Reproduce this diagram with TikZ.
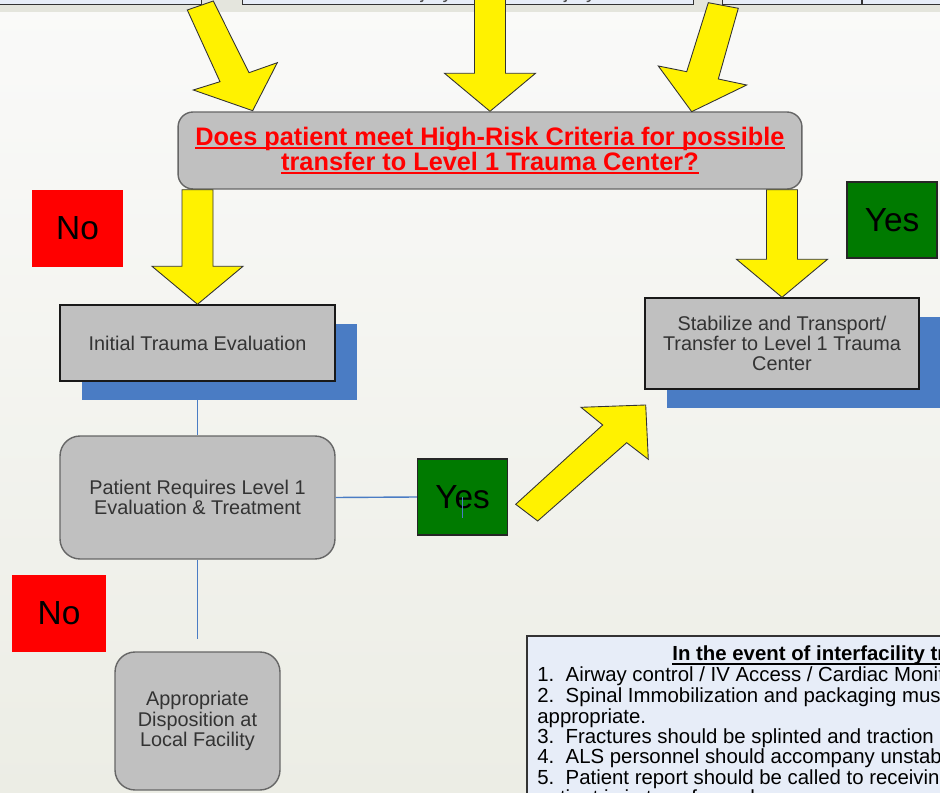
\documentclass[tikz,border=0pt]{standalone}
\usepackage{fontspec}
\setmainfont{Liberation Sans}
\usetikzlibrary{calc,shadows}
\definecolor{boxgray}{RGB}{192,192,192}
\definecolor{shblue}{RGB}{74,124,196}
\definecolor{noteblue}{RGB}{231,237,248}
\definecolor{yesgreen}{RGB}{0,122,0}
\definecolor{bgtop}{RGB}{250,250,249}
\definecolor{bgbot}{RGB}{236,237,229}
\definecolor{bandgray}{RGB}{228,229,221}
\newcommand{\boxfont}{\fontsize{11.3}{11.5}\selectfont}
\newcommand{\notefont}{\fontsize{11.6}{11.6}\selectfont}
\newcommand{\askfont}{\fontsize{14.4}{14.2}\selectfont\bfseries}
\newcommand{\signfont}{\fontsize{19}{19}\selectfont}
\newcommand{\undl}[1]{\setbox0\hbox{#1}\rlap{\rule[-2pt]{\wd0}{0.9pt}}\box0}
\newcommand{\fatarrow}[2]{%
  \draw[yarrow] ($(#1)+(-15.5,0)$) -- ($(#1)+(15.5,0)$) -- ($(#2)+(15.5,-38)$)
    -- ($(#2)+(45.5,-38)$) -- (#2) -- ($(#2)+(-45.5,-38)$) -- ($(#2)+(-15.5,-38)$) -- cycle;}
\tikzset{
  yarrow/.style={fill=yellow, draw=black!80, line width=0.5pt},
  link/.style={draw=shblue, line width=0.8pt},
  notebox/.style={draw=black!80, fill=noteblue, line width=0.7pt},
  flatbox/.style={draw=black!90, fill=boxgray, line width=0.8pt, align=center,
    text=black!80, font=\boxfont},
  roundbox/.style={flatbox, draw=black!60, rounded corners=0.4cm},
  askbox/.style={flatbox, draw=black!60, rounded corners=0.3cm, text=red, font=\askfont},
  blueshadow/.style={general shadow={fill=shblue, shadow xshift=0.44cm, shadow yshift=-0.38cm}},
  nosign/.style={fill=red, font=\signfont, minimum width=1.84cm, minimum height=1.54cm},
  yessign/.style={draw=black!85, line width=0.8pt, fill=yesgreen, font=\signfont,
    minimum width=1.8cm, minimum height=1.52cm},
  notetext/.style={anchor=base west, font=\notefont, inner sep=0pt}
}

\begin{document}
\begin{tikzpicture}[x=0.02cm, y=-0.02cm]
\useasboundingbox (0,0) rectangle (940,793);
\clip (0,0) rectangle (940,793);
\fill[top color=bgtop, bottom color=bgbot] (0,0) rectangle (940,793);
\fill[bandgray] (0,0) rectangle (940,12);

% criteria boxes above (cut off)
\draw[notebox] (-20,-40) rectangle (201.7,4.7);
\draw[notebox] (242.7,-40) rectangle (693.3,4.7);
\draw[notebox] (722.7,-40) rectangle (960,4.7);
\draw[notebox] (862,-40) -- (862,4.7);
\node[notetext, font=\boxfont, text=black!70] at (257,-1) {4.\ \ Severe facial injury with head injury};

\node[askbox, minimum width=12.48cm, minimum height=1.54cm] (q) at (490,150.5)
  {\undl{Does patient meet High-Risk Criteria for possible}\\
   \undl{transfer to Level 1 Trauma Center?}};

\draw[yarrow] (187.3,10) -- (213.3,1) -- (249,72.7) -- (277.3,62.7) -- (252.7,110.7)
  -- (193.3,90) -- (220,81.7) -- cycle;
\fatarrow{490,-5}{q.north}
\draw[yarrow] (708.3,2.7) -- (738.3,8.3) -- (718.3,79) -- (746.7,85) -- (691.7,111.7)
  -- (658.3,66) -- (686.7,71.7) -- cycle;

\node[nosign] (no1) at (77.5,228.5) {No};
\node[yessign] (yes1) at (892,220) {Yes};

\node[flatbox, blueshadow, minimum width=5.5cm, minimum height=1.52cm] (init) at (197.5,343)
  {Initial Trauma Evaluation};
\node[flatbox, blueshadow, minimum width=5.48cm, minimum height=1.82cm] (stab) at (782,343.5)
  {Stabilize and Transport/\\Transfer to Level 1 Trauma\\Center};

\coordinate (t1) at (q.south -| init.north);
\coordinate (t2) at (q.south -| stab.north);
\fatarrow{t1}{init.north}
\fatarrow{t2}{stab.north}

\node[roundbox, minimum width=5.5cm, minimum height=2.46cm] (req) at (197.5,497.5)
  {Patient Requires Level 1\\Evaluation \& Treatment};
\node[yessign] (yes2) at (462.5,497) {Yes};
\node[nosign, minimum width=1.88cm] (no2) at (59,613.5) {No};
\node[roundbox, minimum width=3.3cm, minimum height=2.76cm] (disp) at (197.5,721)
  {Appropriate\\Disposition at\\Local Facility};
\coordinate (dispend) at (197.5,639);

\draw[link] (init.south) -- (req.north);
\draw[link] (req.east) -- (yes2.west);
\draw[link] (yes2.center) -- ++(0,21);
\draw[link] (req.south) -- (dispend);

\draw[yarrow] (515.7,504.3) -- (602.7,425) -- (581,407.3) -- (645.7,405) -- (648.3,459.3)
  -- (626.7,442.7) -- (537.7,521) -- cycle;

% interfacility notes (cut off)
\draw[notebox] (527,636) rectangle (960,840);
\node[notetext, font=\notefont\bfseries] at (672,661) {\undl{In the event of interfacility transfer:}};
\node[notetext] at (537,682) {1.\ \ Airway control / IV Access / Cardiac Monitoring};
\node[notetext] at (537,702) {2.\ \ Spinal Immobilization and packaging must be};
\node[notetext] at (537,723) {appropriate.};
\node[notetext] at (537,743) {3.\ \ Fractures should be splinted and traction used};
\node[notetext] at (537,763) {4.\ \ ALS personnel should accompany unstable};
\node[notetext] at (537,784) {5.\ \ Patient report should be called to receiving facility};
\node[notetext] at (537,804) {patient is in transfer and};
\end{tikzpicture}
\end{document}
